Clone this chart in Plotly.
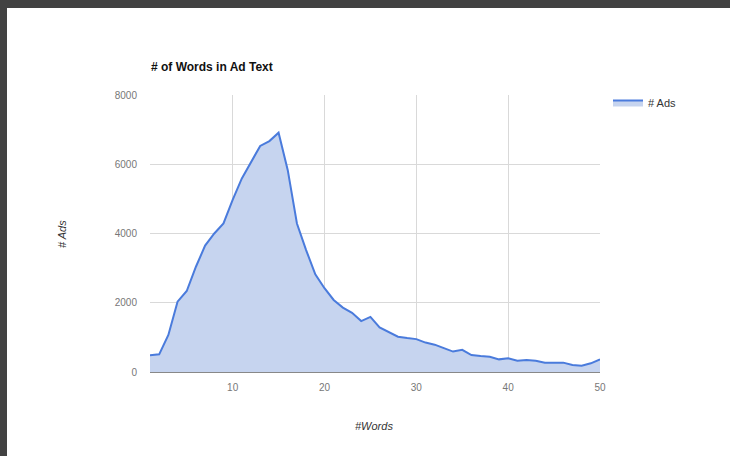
import plotly.graph_objects as go

# Number of words in the ad text (1..50) and how many ads have that length
words = list(range(1, 51))
ads = [480, 510, 1070, 2030, 2340, 3040, 3650, 4000, 4290, 4970,
       5590, 6040, 6530, 6670, 6910, 5830, 4290, 3520, 2820, 2420,
       2080, 1860, 1710, 1470, 1590, 1290, 1155, 1020, 980, 950,
       850, 790, 690, 590, 640, 490, 460, 440, 365, 395,
       325, 345, 325, 270, 270, 270, 200, 180, 250, 365]

x_ticks = [10, 20, 30, 40, 50]
y_ticks = [0, 2000, 4000, 6000, 8000]

W, H = 730, 456
L, R, T, B = 150, 600, 95, 372  # plot area in pixels

fig = go.Figure()
fig.add_trace(go.Scatter(
    x=words, y=ads, name="# Ads", mode="lines",
    line=dict(color="#4a7bdc", width=2),
    fill="tozeroy", fillcolor="#c6d4ef",
))

def px_x(p):
    return (p - L) / (R - L)

def px_y(p):
    return (B - p) / (B - T)

fig.update_layout(
    width=W, height=H,
    margin=dict(l=L, r=W - R, t=T, b=H - B),
    paper_bgcolor="white", plot_bgcolor="white",
    font=dict(family="Liberation Sans, Arial", color="#444"),
    showlegend=True,
    legend=dict(x=px_x(608), y=px_y(88), xanchor="left", yanchor="top",
                font=dict(size=11, color="#333"), bgcolor="rgba(0,0,0,0)",
                itemwidth=30),
    xaxis=dict(range=[1, 50], tickvals=x_ticks, showgrid=True,
               gridcolor="#d9d9d9", gridwidth=1, zeroline=False,
               showline=False, ticks="", ticklabelstandoff=8,
               tickfont=dict(size=10, color="#777")),
    yaxis=dict(range=[0, 8000], tickvals=y_ticks, showgrid=True,
               gridcolor="#d9d9d9", gridwidth=1, zeroline=True,
               zerolinecolor="#888", zerolinewidth=1,
               showline=False, ticks="", ticklabelstandoff=12,
               tickfont=dict(size=10, color="#777")),
    annotations=[
        dict(text="<b># of Words in Ad Text</b>", xref="paper", yref="paper",
             x=px_x(149), y=px_y(67), xanchor="left", yanchor="middle",
             showarrow=False, font=dict(size=12, color="#111")),
        dict(text="<i>#Words</i>", xref="paper", yref="paper",
             x=px_x(374), y=px_y(426), xanchor="center", yanchor="middle",
             showarrow=False, font=dict(size=11, color="#333")),
        dict(text="<i># Ads</i>", xref="paper", yref="paper",
             x=px_x(62), y=px_y(234), xanchor="center", yanchor="middle",
             textangle=-90, showarrow=False, font=dict(size=11, color="#333")),
    ],
    shapes=[
        # dark frame strips along the top and left edges
        dict(type="rect", xref="paper", yref="paper", layer="above",
             x0=px_x(0), x1=px_x(W), y0=px_y(0), y1=px_y(8),
             fillcolor="#424242", line=dict(width=0)),
        dict(type="rect", xref="paper", yref="paper", layer="above",
             x0=px_x(0), x1=px_x(7), y0=px_y(0), y1=px_y(H),
             fillcolor="#424242", line=dict(width=0)),
    ],
)

fig.write_html("out.html")
